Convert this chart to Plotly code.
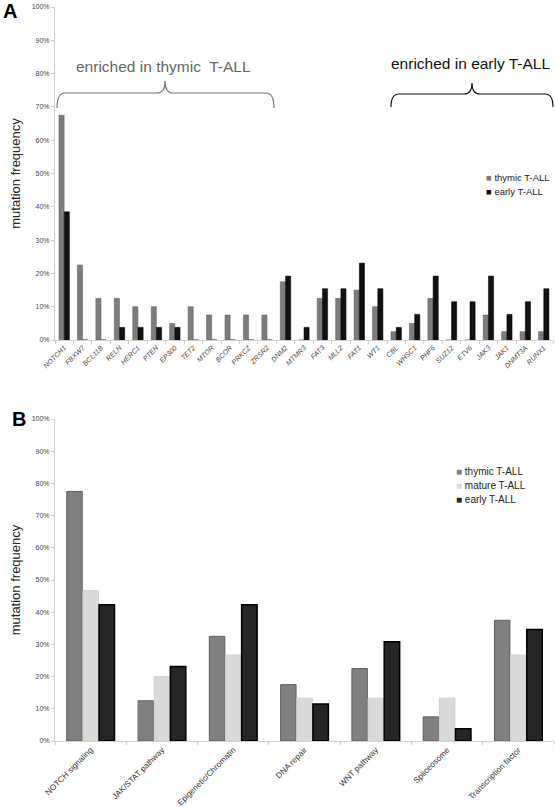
import plotly.graph_objects as go

W, H = 555, 807

# ---------- Panel A data ----------
genes_a = ["NOTCH1", "FBXW7", "BCL11B", "RELN", "HERC1", "PTEN", "EP300", "TET2", "MTOR",
           "BCOR", "PRKCZ", "ZRSR2", "DNM2", "MTMR3", "FAT3", "MLL2", "FAT1", "WT1", "CBL",
           "WHSC1", "PHF6", "SUZ12", "ETV6", "JAK3", "JAK1", "DNMT3A", "RUNX1"]
thymic_a = [0.675, 0.225, 0.125, 0.125, 0.10, 0.10, 0.05, 0.10, 0.075,
            0.075, 0.075, 0.075, 0.175, 0.0, 0.125, 0.125, 0.15, 0.10, 0.025,
            0.05, 0.125, 0.0, 0.0, 0.075, 0.025, 0.025, 0.025]
early_a = [0.385, 0.0, 0.0, 0.038, 0.038, 0.038, 0.038, 0.0, 0.0,
           0.0, 0.0, 0.0, 0.192, 0.038, 0.154, 0.154, 0.231, 0.154, 0.038,
           0.077, 0.192, 0.115, 0.115, 0.192, 0.077, 0.115, 0.154]

# ---------- Panel B data ----------
pathways_b = ["NOTCH signaling", "JAK/STAT pathway", "Epigenetic/Chromatin", "DNA repair",
              "WNT pathway", "Spliceosome", "Transcription factor"]
thymic_b = [0.775, 0.125, 0.325, 0.175, 0.225, 0.075, 0.375]
mature_b = [0.467, 0.20, 0.267, 0.133, 0.133, 0.133, 0.267]
early_b = [0.423, 0.231, 0.423, 0.115, 0.308, 0.038, 0.346]

y_ticks = [i / 10 for i in range(11)]

FONT = "Arial, Liberation Sans, sans-serif"

COL_A_THY = "#7d7d7d"
COL_A_EARLY = "#111111"
COL_B_THY = "#808080"
COL_B_MAT = "#d9d9d9"
COL_B_EARLY = "#262626"

def px_x(p):
    return p / W

def px_y(p):
    return 1 - p / H

fig = go.Figure()

# Panel A bars
fig.add_trace(go.Bar(x=genes_a, y=thymic_a, name="thymic T-ALL", xaxis="x", yaxis="y",
                     marker=dict(color=COL_A_THY, line=dict(color="#5a5a5a", width=0.5)),
                     width=0.28, offset=-0.285, showlegend=False))
fig.add_trace(go.Bar(x=genes_a, y=early_a, name="early T-ALL", xaxis="x", yaxis="y",
                     marker=dict(color=COL_A_EARLY, line=dict(color="#000000", width=0.5)),
                     width=0.28, offset=0.0, showlegend=False))

# Panel B bars
fig.add_trace(go.Bar(x=pathways_b, y=thymic_b, name="thymic T-ALL", xaxis="x2", yaxis="y2",
                     marker=dict(color=COL_B_THY, line=dict(color="#5f5f5f", width=1)),
                     width=0.217, offset=-0.335, showlegend=False))
fig.add_trace(go.Bar(x=pathways_b, y=mature_b, name="mature T-ALL", xaxis="x2", yaxis="y2",
                     marker=dict(color=COL_B_MAT, line=dict(color="#d0d0d0", width=1)),
                     width=0.217, offset=-0.108, showlegend=False))
fig.add_trace(go.Bar(x=pathways_b, y=early_b, name="early T-ALL", xaxis="x2", yaxis="y2",
                     marker=dict(color=COL_B_EARLY, line=dict(color="#000000", width=1.5)),
                     width=0.217, offset=0.118, showlegend=False))

axis_common = dict(showgrid=False, zeroline=False, showline=True, linecolor="#d0d0d0",
                   automargin=False)

fig.update_layout(
    width=W, height=H,
    margin=dict(l=0, r=0, t=0, b=0),
    paper_bgcolor="white", plot_bgcolor="white",
    font=dict(family=FONT, color="#333333"),
    barmode="group",
    showlegend=False,
    xaxis=dict(domain=[px_x(55), px_x(553)], anchor="y", tickangle=-45,
               tickfont=dict(size=7, color="#444444", family=FONT, style="italic"),
               ticks="outside", ticklen=3, tickcolor="#d0d0d0", tickson="boundaries",
               **axis_common),
    yaxis=dict(domain=[px_y(340), px_y(7)], anchor="x", range=[0, 1], tickvals=y_ticks,
               tickformat=".0%", tickfont=dict(size=7, color="#444444"),
               ticks="outside", ticklen=3, tickcolor="#d0d0d0",
               title=dict(text="mutation frequency", font=dict(size=13, color="#222222"),
                          standoff=8),
               **axis_common),
    xaxis2=dict(domain=[px_x(55), px_x(554)], anchor="y2", tickangle=-45,
                tickfont=dict(size=8.2, color="#333333"),
                ticks="outside", ticklen=3, tickcolor="#d0d0d0", tickson="boundaries",
                **axis_common),
    yaxis2=dict(domain=[px_y(741), px_y(419)], anchor="x2", range=[0, 1], tickvals=y_ticks,
                tickformat=".0%", tickfont=dict(size=7, color="#444444"),
                ticks="outside", ticklen=3, tickcolor="#d0d0d0",
                title=dict(text="mutation frequency", font=dict(size=13, color="#222222"),
                           standoff=8),
                **axis_common),
)

# legend entries (key square + label)
def legend_entry(x, y, color, label, size):
    fig.add_annotation(x=px_x(x), y=px_y(y), xref="paper", yref="paper",
                       xanchor="left", yanchor="middle", showarrow=False,
                       text=f"<span style='color:{color}'>■</span> {label}",
                       font=dict(size=size, color="#222222", family=FONT))

legend_entry(484, 178, COL_A_THY, "thymic T-ALL", 9.5)
legend_entry(484, 191, COL_A_EARLY, "early T-ALL", 9.5)
legend_entry(454, 471, COL_B_THY, "thymic T-ALL", 10)
legend_entry(454, 485.5, COL_B_MAT, "mature T-ALL", 10)
legend_entry(454, 500, COL_B_EARLY, "early T-ALL", 10)

def brace(x0, x1, xm, ytop, ytip, ypeak, color):
    xs = [px_x(v) for v in (x0, x1, xm)]
    yt, yb, yp = px_y(ytop), px_y(ytip), px_y(ypeak)
    r = 4 / W
    path = (f"M {xs[0]},{yb} Q {xs[0]},{yt} {xs[0]+r*2},{yt} "
            f"L {xs[2]-r*2},{yt} Q {xs[2]},{yt} {xs[2]},{yp} "
            f"Q {xs[2]},{yt} {xs[2]+r*2},{yt} "
            f"L {xs[1]-r*2},{yt} Q {xs[1]},{yt} {xs[1]},{yb}")
    return dict(type="path", xref="paper", yref="paper", path=path,
                line=dict(color=color, width=1.2))

fig.add_shape(brace(57, 274, 165, 93, 108, 81, "#777777"))
fig.add_shape(brace(391, 553, 472, 94, 107, 83, "#111111"))

fig.add_annotation(x=px_x(163), y=px_y(66), xref="paper", yref="paper",
                   xanchor="center", yanchor="middle",
                   text="enriched in thymic  T-ALL", showarrow=False,
                   font=dict(size=15.5, color="#666666", family=FONT))
fig.add_annotation(x=px_x(470), y=px_y(64), xref="paper", yref="paper",
                   xanchor="center", yanchor="middle",
                   text="enriched in early T-ALL", showarrow=False,
                   font=dict(size=15.5, color="#111111", family=FONT))

fig.add_annotation(x=px_x(1), y=px_y(11), xref="paper", yref="paper",
                   xanchor="left", yanchor="middle",
                   text="<b>A</b>", showarrow=False,
                   font=dict(size=20, color="#000000", family=FONT))
fig.add_annotation(x=px_x(10), y=px_y(419), xref="paper", yref="paper",
                   xanchor="left", yanchor="middle",
                   text="<b>B</b>", showarrow=False,
                   font=dict(size=20, color="#000000", family=FONT))

fig.write_html("out.html", config={"displayModeBar": False},
               post_script="document.body.style.margin='0';")
